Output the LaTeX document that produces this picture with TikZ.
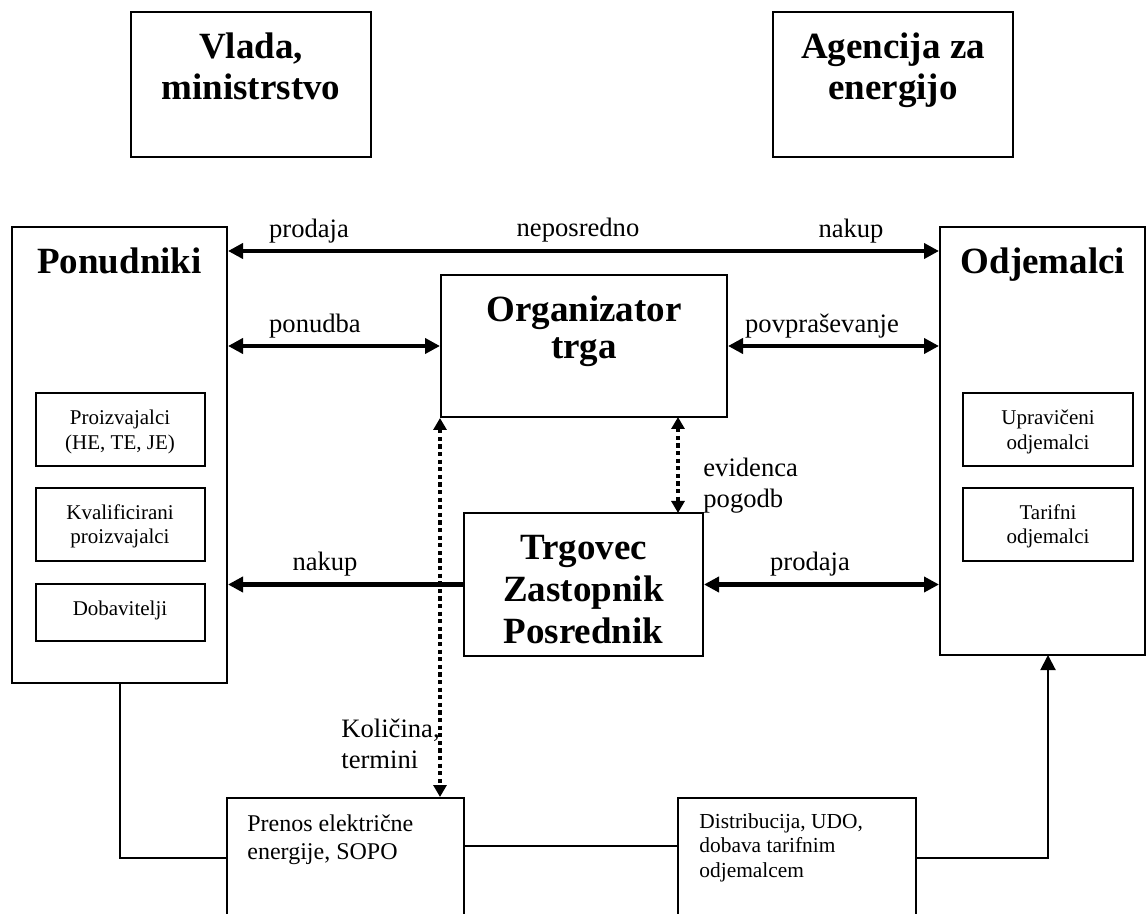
\documentclass[tikz,border=0pt]{standalone}
\usepackage{fontspec}
\setmainfont{Liberation Serif}
\usetikzlibrary{fit, arrows.meta}

\tikzset{
  box/.style={draw, line width=1pt, inner sep=0pt},
  head/.style={font=\fontsize{18.5}{20.5}\selectfont\bfseries, align=center, inner sep=0pt},
  lbl/.style={font=\fontsize{13.3}{15.5}\selectfont, inner sep=0pt},
  small/.style={font=\fontsize{10.5}{12.5}\selectfont, align=center, inner sep=0pt},
  wire/.style={line width=1pt},
  flow/.style={line width=2.4pt, -{Triangle[length=7.5pt,width=7.5pt]}},
  flows/.style={line width=2.4pt, {Triangle[length=7.5pt,width=7.5pt]}-{Triangle[length=7.5pt,width=7.5pt]}},
  info/.style={line width=2.3pt, dash pattern=on 2.1pt off 1.7pt, {Triangle[length=6pt,width=6.5pt]}-{Triangle[length=6pt,width=6.5pt]}},
}

\begin{document}
\begin{tikzpicture}[x=0.5pt,y=-0.5pt]
		\useasboundingbox (0,0) rectangle (1146,914);
		\clip (0,0) rectangle (1146,914);
		
		% top boxes
		\node[box, fit={(131,12) (371,157)}] (vlada) {};
		\node[head, anchor=base] (vladaT) at (251,100) {Vlada,\\ministrstvo};
		\node[box, fit={(773,12) (1013,157)}] (agen) {};
		\node[head, anchor=base] (agenT) at (893,100) {Agencija za\\energijo};
		
		% main boxes
		\node[box, fit={(12,227) (227,683)}] (pon) {};
		\node[head, anchor=base] (ponT) at (119.5,274) {Ponudniki};
		\node[box, fit={(940,227) (1145,655)}] (odj) {};
		\node[head, anchor=base] (odjT) at (1043,274) {Odjemalci};
		\node[box, fit={(441,275) (727,417)}] (org) {};
		\node[head, anchor=base, font=\fontsize{18.5}{18.5}\selectfont\bfseries] (orgT) at (584,359) {Organizator\\trga};
		\node[box, fit={(464,513) (703,656)}] (trg) {};
		\node[head, anchor=base, font=\fontsize{18.5}{21}\selectfont\bfseries] (trgT) at (583.5,643) {Trgovec\\Zastopnik\\Posrednik};
		
		% inner boxes
		\node[box, fit={(36,393) (205,466)}] (proiz) {};
		\node[small, anchor=base] (proizT) at (120,450) {Proizvajalci\\(HE, TE, JE)};
		\node[box, fit={(36,488) (205,561)}] (kval) {};
		\node[small, anchor=base] (kvalT) at (120,544) {Kvalificirani\\proizvajalci};
		\node[box, fit={(36,584) (205,641)}] (dob) {};
		\node[small, anchor=base] (dobT) at (120,615) {Dobavitelji};
		\node[box, fit={(963,393) (1133,466)}] (upr) {};
		\node[small, anchor=base] (uprT) at (1048,450) {Upravičeni\\odjemalci};
		\node[box, fit={(963,488) (1133,561)}] (tar) {};
		\node[small, anchor=base] (tarT) at (1048,544) {Tarifni\\odjemalci};
		
		% bottom boxes
		\node[box, fit={(227,798) (464,940)}] (pre) {};
		\node[anchor=base west, inner sep=0pt, align=left, font=\fontsize{12}{14}\selectfont] (preT) at (247,859) {Prenos električne\\energije, SOPO};
		\node[box, fit={(678,798) (916,940)}] (dis) {};
		\node[anchor=base west, inner sep=0pt, align=left, font=\fontsize{10.7}{12.25}\selectfont] (disT) at (699,877) {Distribucija, UDO,\\dobava tarifnim\\odjemalcem};
		
		% arrows
		\draw[flows] (pon.east |- 0,251) -- (odj.west |- 0,251);
		\draw[flows] (pon.east |- org.west) -- (org.west);
		\draw[flows] (org.east) -- (odj.west |- org.east);
		\draw[flow] (trg.west) -- (pon.east |- trg.west);
		\draw[flows] (trg.east) -- (odj.west |- trg.east);
		\draw[info] (org.south west) -- (pre.north -| org.south west);
		\draw[info] (678,417) -- (678,513);
		\draw[wire] (pon.south) |- (pre.west |- 0,858);
		\draw[wire] (pre.east |- 0,846) -- (dis.west |- 0,846);
		\draw[wire, -{Triangle[length=7.5pt,width=7.5pt]}] (dis.east |- 0,858) -| (1048,655);
		
		% labels
		\node[lbl, anchor=base] (l1) at (309,238) {prodaja};
		\node[lbl, anchor=base] (l2) at (578,237) {neposredno};
		\node[lbl, anchor=base] (l3) at (851,238) {nakup};
		\node[lbl, anchor=base] (l4) at (315,333) {ponudba};
		\node[lbl, anchor=base] (l5) at (822,333) {povpraševanje};
		\node[lbl, anchor=base] (l6) at (325,570) {nakup};
		\node[lbl, anchor=base] (l7) at (810,570) {prodaja};
		\node[lbl, anchor=base west, align=left] (l8) at (703,508) {evidenca\\pogodb};
		\node[lbl, anchor=base west, align=left] (l9) at (341,768) {Količina,\\termini};
		
\end{tikzpicture}
\end{document}
